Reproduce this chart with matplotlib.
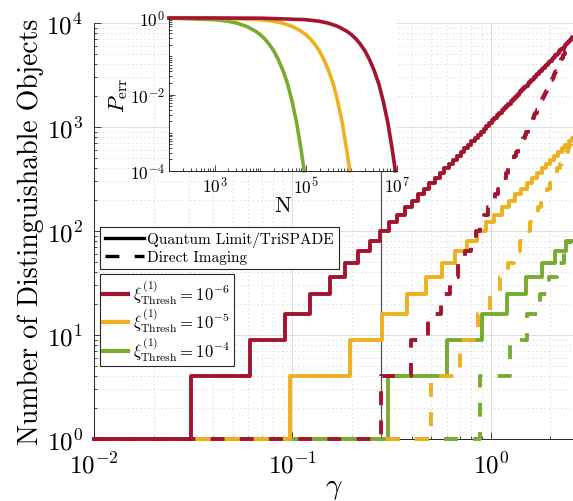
import numpy as np
import matplotlib
matplotlib.use('Agg')
import matplotlib.pyplot as plt
from matplotlib.lines import Line2D
from matplotlib.ticker import LogLocator, NullFormatter, FixedLocator, FixedFormatter

plt.rcParams['font.family'] = ['cmr10', 'DejaVu Serif']
plt.rcParams['mathtext.fontset'] = 'cm'
plt.rcParams['axes.formatter.use_mathtext'] = True
plt.rcParams['lines.scale_dashes'] = False

# Colores (MATLAB)
clr_r = '#A2142F'
clr_y = '#EDB120'
clr_g = '#77AC30'

# Numero de objetos distinguibles (niveles de cada escalon)
counts = [4, 9, 16, 25, 36, 49, 64, 81, 100, 121, 144, 169, 196, 225, 256, 289,
          324, 361, 400, 441, 484, 529, 576, 625, 676, 729, 784, 841, 900, 961,
          1024, 1089, 1156, 1225, 1296, 1369, 1444, 1521, 1600, 1681, 1764, 1849,
          1936, 2025, 2116, 2209, 2304, 2401, 2500, 2601, 2704, 2809, 2916, 3025,
          3136, 3249, 3364, 3481, 3600, 3721, 3844, 3969, 4096, 4225, 4356, 4489,
          4624, 4761, 4900, 5041, 5184, 5329, 5476, 5625, 5776, 5929, 6084, 6241,
          6400, 6561, 6724, 6889, 7056, 7225, 7396, 7569]

# Valores de gamma donde ocurre cada salto - Quantum Limit/TriSPADE
q_red = [0.031, 0.061, 0.092, 0.123, 0.154, 0.184, 0.215, 0.246, 0.276, 0.307,
         0.338, 0.368, 0.399, 0.430, 0.461, 0.491, 0.522, 0.553, 0.583, 0.614,
         0.645, 0.675, 0.706, 0.737, 0.768, 0.798, 0.829, 0.860, 0.890, 0.921,
         0.952, 0.982, 1.013, 1.044, 1.075, 1.105, 1.136, 1.167, 1.197, 1.228,
         1.259, 1.289, 1.320, 1.351, 1.382, 1.412, 1.443, 1.474, 1.504, 1.535,
         1.566, 1.596, 1.627, 1.658, 1.689, 1.719, 1.750, 1.781, 1.811, 1.842,
         1.873, 1.903, 1.934, 1.965, 1.996, 2.026, 2.057, 2.088, 2.118, 2.149,
         2.180, 2.210, 2.241, 2.272, 2.303, 2.333, 2.364, 2.395, 2.425, 2.456,
         2.487, 2.517, 2.548, 2.579]
q_yel = [0.097, 0.195, 0.283, 0.378, 0.474, 0.569, 0.664, 0.759, 0.854, 0.949,
         1.044, 1.139, 1.234, 1.329, 1.424, 1.519, 1.614, 1.709, 1.804, 1.899,
         1.994, 2.089, 2.184, 2.279, 2.374, 2.469, 2.564]
q_grn = [0.303, 0.602, 0.903, 1.210, 1.510, 1.810, 2.110, 2.410]

# Valores de gamma donde ocurre cada salto - Direct Imaging
d_red = [0.280, 0.396, 0.485, 0.560, 0.626, 0.686, 0.741, 0.792, 0.840, 0.885,
         0.929, 0.970, 1.010, 1.048, 1.084, 1.120, 1.154, 1.188, 1.220, 1.252,
         1.283, 1.313, 1.343, 1.372, 1.400, 1.428, 1.455, 1.482, 1.508, 1.534,
         1.559, 1.584, 1.609, 1.633, 1.656, 1.680, 1.703, 1.726, 1.749, 1.771,
         1.793, 1.815, 1.836, 1.857, 1.878, 1.899, 1.920, 1.940, 1.960, 1.980,
         2.000, 2.019, 2.038, 2.057, 2.076, 2.095, 2.114, 2.132, 2.151, 2.169,
         2.187, 2.205, 2.222, 2.240, 2.257, 2.275, 2.292, 2.309, 2.326, 2.343,
         2.359, 2.376, 2.392, 2.409, 2.425, 2.441, 2.457, 2.473, 2.489, 2.504,
         2.520, 2.535, 2.551, 2.566, 2.582, 2.597]
d_yel = [0.498, 0.704, 0.863, 0.996, 1.114, 1.220, 1.318, 1.408, 1.494, 1.575,
         1.652, 1.725, 1.796, 1.863, 1.929, 1.992, 2.053, 2.113, 2.171, 2.227,
         2.282, 2.336, 2.388, 2.440, 2.490, 2.539, 2.588]
d_grn = [0.885, 1.252, 1.533, 1.770, 1.979, 2.168, 2.342, 2.503]

g_min, g_max = 0.01, 2.6
g_mark = 0.279

# Inset: probabilidad de error vs N
n_red = [1e2, 1e3, 1e4, 1e5, 2e5, 3.16e5, 5e5, 7.9e5, 1e6, 1.26e6, 1.58e6, 2e6,
         2.5e6, 3.16e6, 4e6, 5e6, 6.3e6, 7.9e6, 9.2e6]
p_red = [1.0, 0.999, 0.990, 0.905, 0.819, 0.729, 0.605, 0.452, 0.368, 0.284,
         0.205, 0.136, 0.0811, 0.0424, 0.0187, 0.00665, 0.00182, 0.000355, 0.000101]
n_yel = [1e2, 1e3, 1e4, 2e4, 3.16e4, 5e4, 7.9e4, 1e5, 1.26e5, 1.58e5, 2e5,
         2.5e5, 3.16e5, 4e5, 5e5, 6.3e5, 7.9e5, 9.2e5]
p_yel = [0.999, 0.990, 0.905, 0.819, 0.729, 0.605, 0.452, 0.368, 0.284, 0.205,
         0.136, 0.0811, 0.0424, 0.0187, 0.00665, 0.00182, 0.000355, 0.000101]
n_grn = [1e2, 1e3, 2e3, 3.16e3, 5e3, 7.9e3, 1e4, 1.26e4, 1.58e4, 2e4, 2.5e4,
         3.16e4, 4e4, 5e4, 6.3e4, 7.9e4, 9.2e4]
p_grn = [0.990, 0.905, 0.819, 0.729, 0.605, 0.452, 0.368, 0.284, 0.205, 0.136,
         0.0811, 0.0424, 0.0187, 0.00665, 0.00182, 0.000355, 0.000101]

main_xt = [1e-2, 1e-1, 1e0]
main_xtl = [r'$10^{-2}$', r'$10^{-1}$', r'$10^{0}$']
main_yt = [1e0, 1e1, 1e2, 1e3, 1e4]
main_ytl = [r'$10^{0}$', r'$10^{1}$', r'$10^{2}$', r'$10^{3}$', r'$10^{4}$']
ins_xt = [1e3, 1e5, 1e7]
ins_xtl = [r'$10^{3}$', r'$10^{5}$', r'$10^{7}$']
ins_yt = [1e-4, 1e-2, 1e0]
ins_ytl = [r'$10^{-4}$', r'$10^{-2}$', r'$10^{0}$']

lw = 2.8
dsh = (10, 11)


def stairs(thr):
    x = [g_min] + thr + [g_max]
    y = [1] + counts[:len(thr)] + [counts[len(thr) - 1]]
    return x, y


fig = plt.figure(figsize=(5.73, 5.02), dpi=100)
ax = fig.add_axes([94/573, 62/502, 479/573, 416/502])

# Orden: verde abajo, rojo arriba
series = [(q_grn, d_grn, clr_g), (q_yel, d_yel, clr_y), (q_red, d_red, clr_r)]
z = 3
for q, d, c in series:
    xs, ys = stairs(q)
    ax.step(xs, ys, where='post', color=c, lw=lw, clip_on=False, zorder=z)
    xs, ys = stairs(d)
    ax.step(xs, ys, where='post', color=c, lw=lw, ls=(0, dsh), clip_on=False,
            zorder=z + 0.5)
    z += 1

ax.axvline(g_mark, color='#555555', lw=0.9, zorder=2.5)

ax.set_xscale('log'); ax.set_yscale('log')
ax.set_xlim(g_min, g_max); ax.set_ylim(1, 1e4)
ax.xaxis.set_major_locator(FixedLocator(main_xt))
ax.xaxis.set_major_formatter(FixedFormatter(main_xtl))
ax.yaxis.set_major_locator(FixedLocator(main_yt))
ax.yaxis.set_major_formatter(FixedFormatter(main_ytl))
for a in (ax.xaxis, ax.yaxis):
    a.set_minor_locator(LogLocator(base=10, subs=np.arange(2, 10), numticks=20))
    a.set_minor_formatter(NullFormatter())
ax.tick_params(which='both', direction='in', colors='#262626', labelcolor='k',
               width=0.6, top=False, right=False)
ax.tick_params(which='major', length=5, labelsize=18)
ax.tick_params(axis='y', which='major', pad=8)
ax.tick_params(axis='x', which='major', pad=9)
ax.tick_params(which='minor', length=2.5)
ax.spines['top'].set_visible(False); ax.spines['right'].set_visible(False)
for s in ('left', 'bottom'):
    ax.spines[s].set_color('#262626'); ax.spines[s].set_linewidth(0.7)
ax.grid(True, which='major', color='#dcdcdc', lw=0.7, ls='-', zorder=0)
ax.grid(True, which='minor', color='#d6d6d6', lw=0.6, ls=(0, (1, 2)), zorder=0)
ax.set_axisbelow(True)
ax.set_xlabel(r'$\gamma$', fontsize=21, labelpad=-2)
ax.set_ylabel('Number of Distinguishable Objects', fontsize=20, labelpad=2)

# Leyendas
h1 = [Line2D([], [], color='k', lw=2.4),
      Line2D([], [], color='k', lw=2.4, ls=(0, dsh))]
leg1 = ax.legend(h1, ['Quantum Limit/TriSPADE', 'Direct Imaging'],
                 loc='upper left', bbox_to_anchor=(100/573, 1 - 228/502),
                 bbox_transform=fig.transFigure, borderaxespad=0, fontsize=11,
                 handlelength=2.6, handletextpad=0.2, labelspacing=0.2,
                 borderpad=0.3, fancybox=False, framealpha=1, edgecolor='#262626')
leg1.get_frame().set_linewidth(0.8)
ax.add_artist(leg1)
h2 = [Line2D([], [], color=clr_r, lw=3), Line2D([], [], color=clr_y, lw=3),
      Line2D([], [], color=clr_g, lw=3)]
lab2 = [r'$\xi^{(1)}_{\mathrm{Thresh}} = 10^{-6}$',
        r'$\xi^{(1)}_{\mathrm{Thresh}} = 10^{-5}$',
        r'$\xi^{(1)}_{\mathrm{Thresh}} = 10^{-4}$']
leg2 = ax.legend(h2, lab2, loc='upper left', bbox_to_anchor=(100/573, 1 - 275/502),
                 bbox_transform=fig.transFigure, borderaxespad=0, fontsize=12,
                 handlelength=1.5, handletextpad=0.3, labelspacing=0.0,
                 borderpad=0.2, fancybox=False, framealpha=1, edgecolor='#262626')
leg2.get_frame().set_linewidth(0.8)

# Inset
axi = fig.add_axes([169/573, 1 - 172/502, 228/573, 153/502])
axi.set_facecolor('white')
axi.plot(n_grn, p_grn, color=clr_g, lw=2.6, clip_on=False)
axi.plot(n_yel, p_yel, color=clr_y, lw=2.6, clip_on=False)
axi.plot(n_red, p_red, color=clr_r, lw=2.6, clip_on=False)
axi.set_xscale('log'); axi.set_yscale('log')
axi.set_xlim(1e2, 1e7); axi.set_ylim(1e-4, 1)
axi.xaxis.set_major_locator(FixedLocator(ins_xt))
axi.xaxis.set_major_formatter(FixedFormatter(ins_xtl))
axi.yaxis.set_major_locator(FixedLocator(ins_yt))
axi.yaxis.set_major_formatter(FixedFormatter(ins_ytl))
for a in (axi.xaxis, axi.yaxis):
    a.set_minor_locator(LogLocator(base=10, subs=np.arange(1, 10), numticks=30))
    a.set_minor_formatter(NullFormatter())
axi.tick_params(which='both', direction='in', colors='#262626', labelcolor='k',
                width=0.6, top=False, right=False)
axi.tick_params(which='major', length=4, labelsize=12.5, pad=3)
axi.tick_params(which='minor', length=2)
axi.spines['top'].set_visible(False); axi.spines['right'].set_visible(False)
for s in ('left', 'bottom'):
    axi.spines[s].set_color('#262626'); axi.spines[s].set_linewidth(0.7)
axi.set_xlabel('N', fontsize=16, labelpad=0)
axi.set_ylabel(r'$P_{\mathrm{err}}$', fontsize=16, labelpad=0)

fig.savefig('out.png', dpi=100)
